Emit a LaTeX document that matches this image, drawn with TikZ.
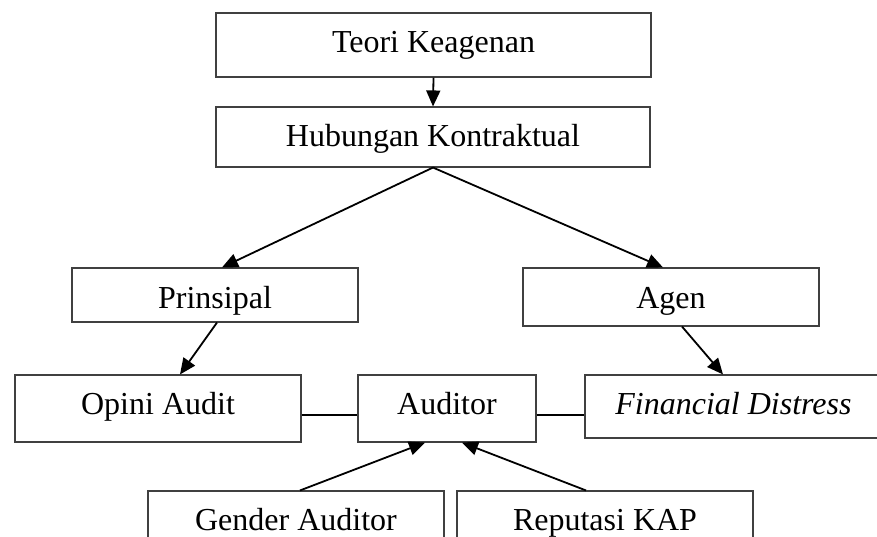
\documentclass[tikz,border=0pt]{standalone}
\usepackage{fontspec}
\setmainfont{Liberation Serif}
\usetikzlibrary{arrows.meta,calc}
\begin{document}
\begin{tikzpicture}[x=1pt,y=-1pt,
  box/.style={draw=black!75, line width=1.1pt, rectangle, inner sep=0pt,
    font=\fontsize{32}{38}\selectfont, text height=22pt, text depth=7pt},
  arr/.style={-{Triangle[length=16pt,width=14pt]}, line width=1.8pt},
  link/.style={line width=1.8pt}]
\useasboundingbox (0,0) rectangle (877,537);
\clip (0,0) rectangle (877,537);
% boxes
\node[box, minimum width=435pt, minimum height=64pt, text height=23pt] (teori) at (433.5,45) {Teori Keagenan};
\node[box, minimum width=434pt, minimum height=60pt, text height=26pt] (hub) at (433,137) {Hubungan Kontraktual};
\node[box, minimum width=286pt, minimum height=54pt, text height=33pt] (prin) at (215,295) {Prinsipal};
\node[box, minimum width=296pt, minimum height=58pt, text height=29pt] (agen) at (671,297) {Agen};
\node[box, minimum width=286pt, minimum height=67pt, text height=18pt] (opini) at (158,408.5) {Opini Audit};
\node[box, minimum width=178pt, minimum height=67pt, text height=18pt] (aud) at (447,408.5) {Auditor};
\node[box, minimum width=297pt, minimum height=63pt, text height=22pt] (fd) at (733.5,406.5) {\itshape Financial Distress};
\node[box, minimum width=296pt, minimum height=110pt, text height=22pt, text depth=53pt] (gender) at (296,546) {Gender Auditor};
\node[box, minimum width=296pt, minimum height=110pt, text height=22pt, text depth=53pt] (rep) at (605,546) {Reputasi KAP};
% connectors
\draw[arr] (teori.south) -- (hub.north);
\draw[arr] (hub.south) -- ($(prin.north)+(7,0)$);
\draw[arr] (hub.south) -- ($(agen.north)+(-8,0)$);
\draw[arr] ($(prin.south)+(2,0)$) -- ($(opini.north)+(22,0)$);
\draw[arr] ($(agen.south)+(11,0)$) -- ($(fd.north)+(-10.5,0)$);
\draw[link] ($(opini.east)+(0,6.5)$) -- ($(aud.west)+(0,6.5)$);
\draw[link] ($(aud.east)+(0,6.5)$) -- ($(fd.west)+(0,8.5)$);
\draw[arr] ($(gender.north)+(4,0)$) -- ($(aud.south)+(-22,0)$);
\draw[arr] ($(rep.north)+(-19,0)$) -- ($(aud.south)+(15,0)$);
\end{tikzpicture}
\end{document}
